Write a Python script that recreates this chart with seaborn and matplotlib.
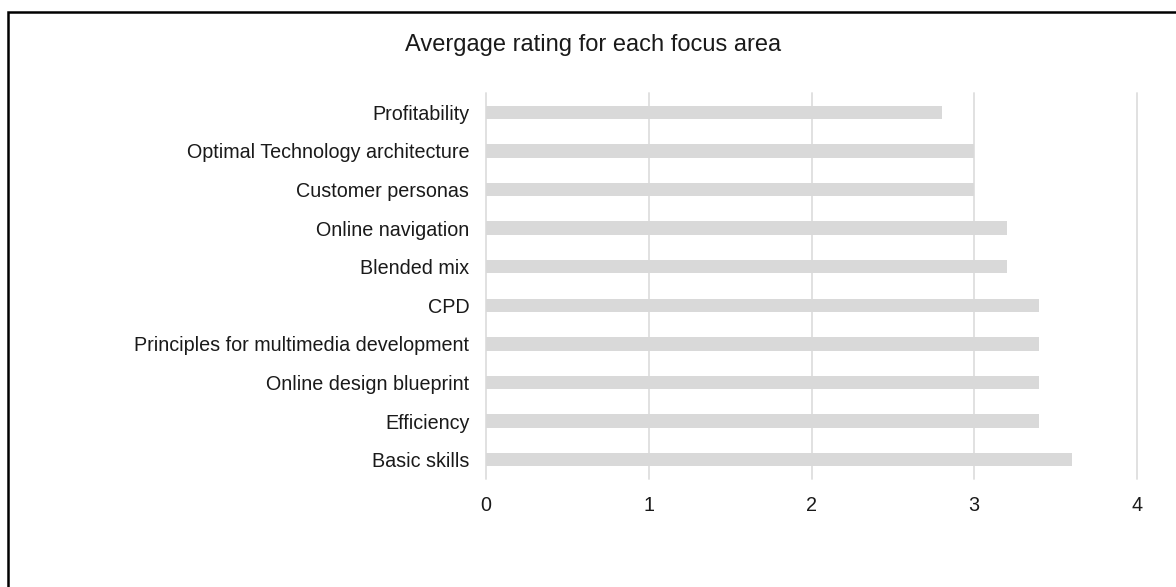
import matplotlib
matplotlib.use("Agg")
import matplotlib.pyplot as plt
import seaborn as sns
import pandas as pd
from matplotlib.patches import Rectangle

categories = ["Profitability", "Optimal Technology architecture", "Customer personas",
              "Online navigation", "Blended mix", "CPD",
              "Principles for multimedia development", "Online design blueprint",
              "Efficiency", "Basic skills"]
ratings = [2.8, 3.0, 3.0, 3.2, 3.2, 3.4, 3.4, 3.4, 3.4, 3.6]
x_ticks = [0, 1, 2, 3, 4]

sns.set_theme(style="white")
plt.rcParams['font.family'] = ['Liberation Sans', 'DejaVu Sans']

df = pd.DataFrame({"area": categories, "rating": ratings})

fig = plt.figure(figsize=(11.76, 5.87), dpi=100)
ax = fig.add_axes([486/1176, 1-479/587, (1137-486)/1176, (479-93)/587])
sns.barplot(data=df, x="rating", y="area", color="#d9d9d9", width=0.35,
            saturation=1, ax=ax, zorder=3, linewidth=0)
ax.set_xlim(0, 4)
ax.set_xticks(x_ticks)
ax.set_xticklabels([str(t) for t in x_ticks])
ax.grid(axis="x", color="#dedede", linewidth=1.3, zorder=0)
ax.grid(axis="y", visible=False)
for line in ax.get_xgridlines():
    line.set_clip_on(False)
for s in ax.spines.values():
    s.set_visible(False)
ax.tick_params(axis="both", length=0, labelsize=14.2, colors="#1a1a1a")
ax.tick_params(axis="y", pad=12)
ax.tick_params(axis="x", pad=12)
ax.set_xlabel("")
ax.set_ylabel("")

fig.text(593/1176, 1-45/587, "Avergage rating for each focus area", ha="center",
         va="center", fontsize=17, color="#1a1a1a")

fig.add_artist(Rectangle((8/1176, -0.1), 1.2, 1.1 - 12/587, transform=fig.transFigure,
                         fill=False, edgecolor="black", linewidth=1.8, clip_on=False))

fig.savefig("out.png", dpi=100)
